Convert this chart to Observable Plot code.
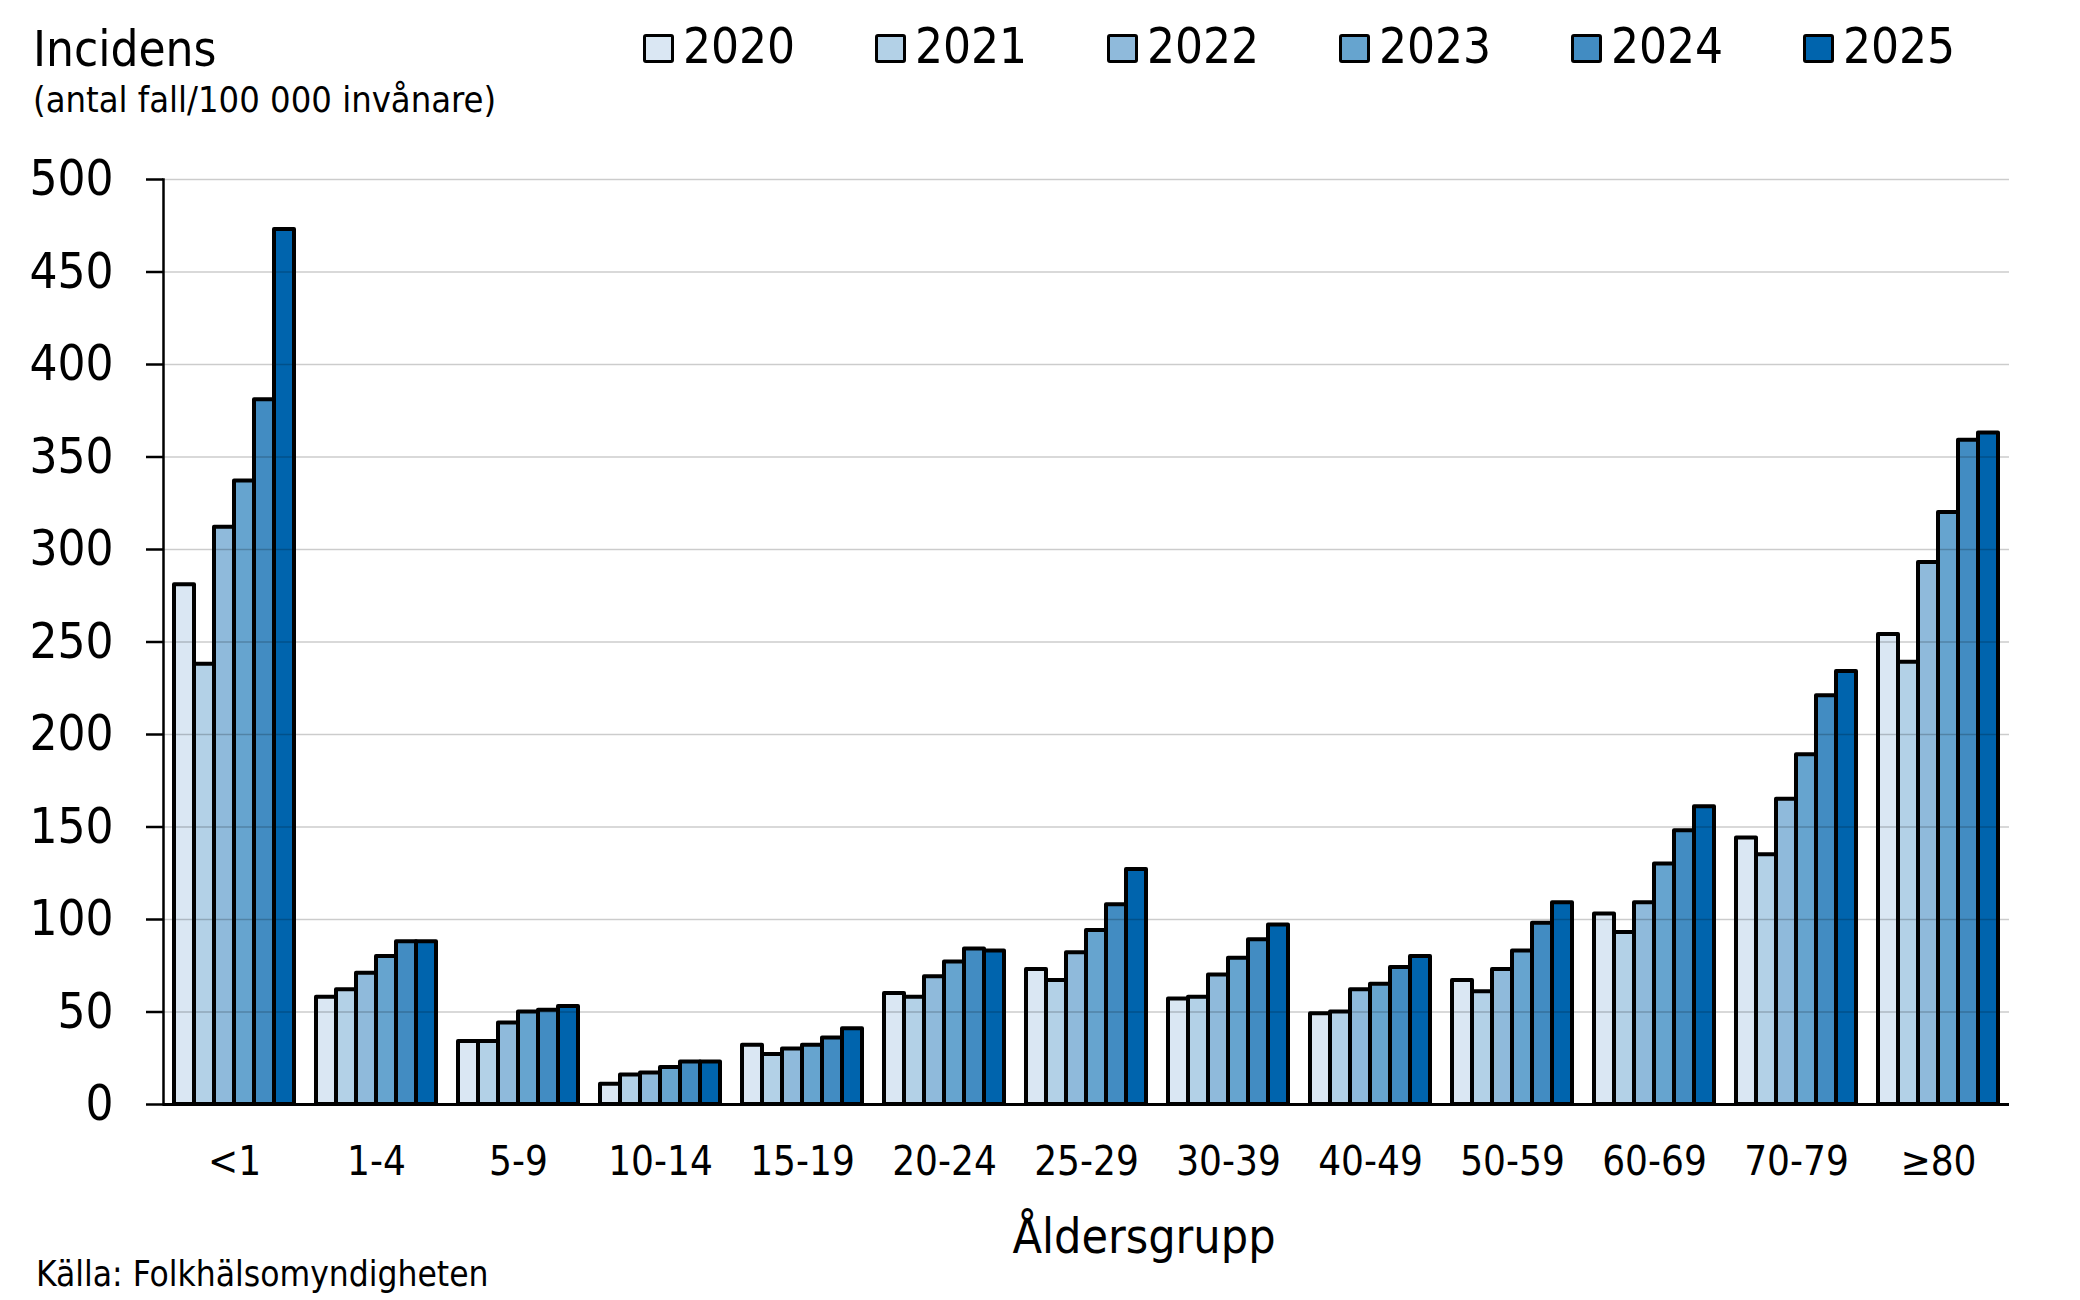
<!DOCTYPE html>
<html>
<head>
<meta charset="utf-8">
<script src="https://cdn.jsdelivr.net/npm/d3@7"></script>
<script src="https://cdn.jsdelivr.net/npm/@observablehq/plot@0.6"></script>
<style>
  body { margin: 0; background: #fff; }
  #wrap { position: relative; width: 2080px; height: 1300px; overflow: hidden;
          font-family: "DejaVu Sans Condensed", "DejaVu Sans", sans-serif; color: #000; background: #fff; }
  .t { position: absolute; white-space: nowrap; line-height: 1; }
  #chart { position: absolute; left: 0; top: 130px; }
  .lg { position: absolute; top: 22px; display: flex; align-items: center; }
  .sw { width: 25px; height: 23px; border: 3.5px solid #000; border-radius: 3px; margin-right: 9px; margin-top: 4px; }
  .lt { font-size: 49px; line-height: 1; }
</style>
</head>
<body>
<div id="wrap">
  <div class="t" style="left:33px; top:25px; font-size:49px;">Incidens</div>
  <div class="t" style="left:33px; top:82px; font-size:36px;">(antal fall/100 000 invånare)</div>
  <div id="legend"></div>
  <div id="chart"></div>
  <div class="t" style="left:1144px; top:1212px; font-size:48px; transform:translateX(-50%);">Åldersgrupp</div>
  <div class="t" style="left:36px; top:1257px; font-size:35px;">Källa: Folkhälsomyndigheten</div>
</div>
<script>
// ---- data ----
const ages = ["<1", "1-4", "5-9", "10-14", "15-19", "20-24", "25-29", "30-39", "40-49", "50-59", "60-69", "70-79", "≥80"];
const years = ["2020", "2021", "2022", "2023", "2024", "2025"];
const inc2020 = [281, 58, 34, 11, 32, 60, 73, 57, 49, 67, 103, 144, 254];
const inc2021 = [238, 62, 34, 16, 27, 58, 67, 58, 50, 61, 93, 135, 239];
const inc2022 = [312, 71, 44, 17, 30, 69, 82, 70, 62, 73, 109, 165, 293];
const inc2023 = [337, 80, 50, 20, 32, 77, 94, 79, 65, 83, 130, 189, 320];
const inc2024 = [381, 88, 51, 23, 36, 84, 108, 89, 74, 98, 148, 221, 359];
const inc2025 = [473, 88, 53, 23, 41, 83, 127, 97, 80, 109, 161, 234, 363];
const yTicks = [0, 50, 100, 150, 200, 250, 300, 350, 400, 450, 500];
const yearColors = ["#dae7f3", "#b3d1e7", "#8fbadb", "#66a4cf", "#428cc2", "#0064ad"];

const series = [inc2020, inc2021, inc2022, inc2023, inc2024, inc2025];
const rows = ages.flatMap((age, i) => years.map((year, j) => ({age, year, value: series[j][i]})));

// ---- legend ----
const legend = document.getElementById("legend");
years.forEach((y, j) => {
  const item = document.createElement("div");
  item.className = "lg";
  item.style.left = (643 + j * 232) + "px";
  item.innerHTML = `<div class="sw" style="background:${yearColors[j]}"></div><span class="lt">${y}</span>`;
  legend.appendChild(item);
});

// ---- chart ----
const font = '"DejaVu Sans Condensed", "DejaVu Sans", sans-serif';
const chart = Plot.plot({
  width: 2080,
  height: 1070,
  marginTop: 49,
  marginBottom: 96,
  marginLeft: 160,
  marginRight: 69,
  style: {fontFamily: font, fontSize: "40px", background: "transparent", color: "#000"},
  fx: {domain: ages, padding: 0, label: null},
  x: {type: "band", domain: years, paddingInner: 0, paddingOuter: 0.47, axis: null},
  y: {domain: [0, 500], label: null},
  color: {type: "ordinal", domain: years, range: yearColors},
  marks: [
    Plot.barY(rows, {fx: "age", x: "year", y: "value", fill: "year", stroke: "#000", strokeWidth: 4, strokeLinejoin: "round"}),
    Plot.ruleY(yTicks.filter(t => t > 0), {stroke: "#000", strokeOpacity: 0.2, strokeWidth: 1.5}),
    Plot.ruleY([0], {stroke: "#000", strokeWidth: 3}),
    Plot.frame({anchor: "left", fx: () => ages[0], stroke: "#000", strokeWidth: 2.5}),
    Plot.axisY({ticks: yTicks, tickSize: 17, tickPadding: 33, fontSize: 49, label: null, strokeWidth: 2.5, tickFormat: d => String(d)}),
    Plot.axisFx({anchor: "bottom", tickSize: 0, tickPadding: 42, fontSize: 40, label: null})
  ]
});
document.getElementById("chart").appendChild(chart);
</script>
</body>
</html>
